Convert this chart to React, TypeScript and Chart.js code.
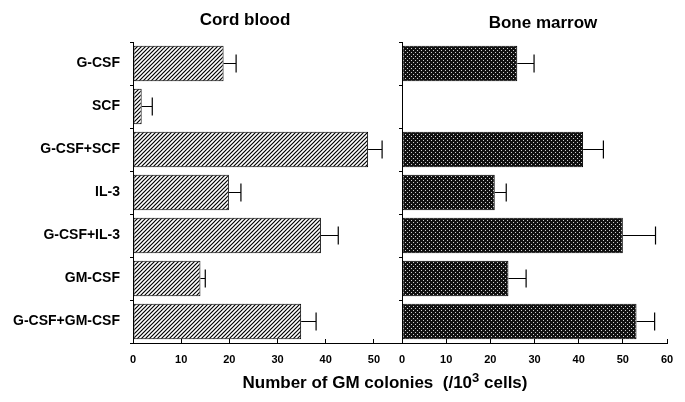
import React, { useEffect, useRef } from "react";
import { Chart, registerables } from "chart.js";

Chart.register(...registerables);

const categories = ["G-CSF", "SCF", "G-CSF+SCF", "IL-3", "G-CSF+IL-3", "GM-CSF", "G-CSF+GM-CSF"];
const cordBlood = [18.8, 1.8, 48.8, 19.9, 39.0, 14.0, 34.9];
const cordBloodErr = [2.6, 2.2, 2.9, 2.5, 3.6, 1.0, 3.1];
const boneMarrow: (number | null)[] = [26.1, null, 41.0, 21.0, 50.0, 24.1, 53.1];
const boneMarrowErr: (number | null)[] = [3.8, null, 4.6, 2.6, 7.4, 4.0, 4.1];
const cordTicksMax = 55;
const boneTicksMax = 60;

function hatchPattern(): CanvasPattern | string {
  const c = document.createElement("canvas");
  c.width = 4;
  c.height = 4;
  const g = c.getContext("2d")!;
  g.fillStyle = "#fff";
  g.fillRect(0, 0, 4, 4);
  g.strokeStyle = "#000";
  g.lineWidth = 1.2;
  g.beginPath();
  g.moveTo(-1, 5);
  g.lineTo(5, -1);
  g.moveTo(-1, 1);
  g.lineTo(1, -1);
  g.moveTo(3, 5);
  g.lineTo(5, 3);
  g.stroke();
  return g.createPattern(c, "repeat") || "#888";
}

function dotPattern(): CanvasPattern | string {
  const c = document.createElement("canvas");
  c.width = 4;
  c.height = 4;
  const g = c.getContext("2d")!;
  g.fillStyle = "#111";
  g.fillRect(0, 0, 4, 4);
  g.fillStyle = "#d0d0d0";
  g.fillRect(0, 0, 1, 1);
  g.fillRect(2, 2, 1, 1);
  return g.createPattern(c, "repeat") || "#222";
}

const errorBarPlugin = {
  id: "errorBars",
  afterDatasetsDraw(chart: any) {
    const ctx = chart.ctx;
    const xs = chart.scales.x;
    chart.data.datasets.forEach((ds: any, di: number) => {
      const meta = chart.getDatasetMeta(di);
      const errs = ds.errors as (number | null)[];
      meta.data.forEach((bar: any, i: number) => {
        const v = ds.data[i];
        const e = errs[i];
        if (v == null || e == null) return;
        const x0 = xs.getPixelForValue(v);
        const x1 = xs.getPixelForValue(v + e);
        const y = bar.y;
        ctx.save();
        ctx.strokeStyle = "#000";
        ctx.lineWidth = 1.2;
        ctx.beginPath();
        ctx.moveTo(x0, y);
        ctx.lineTo(x1, y);
        ctx.moveTo(x1, y - 9);
        ctx.lineTo(x1, y + 9);
        ctx.stroke();
        ctx.restore();
      });
    });
  },
};

function makeConfig(
  values: (number | null)[],
  errors: (number | null)[],
  fill: any,
  max: number,
  yWidth: number,
  showLabels: boolean,
  padRight: number
): any {
  return {
    type: "bar",
    data: {
      labels: categories,
      datasets: [
        {
          data: values,
          errors,
          backgroundColor: fill,
          borderColor: "#000",
          borderWidth: 1,
          borderSkipped: false,
          barPercentage: 0.82,
          categoryPercentage: 1,
        },
      ],
    },
    plugins: [errorBarPlugin],
    options: {
      indexAxis: "y",
      animation: false,
      responsive: false,
      maintainAspectRatio: false,
      layout: { padding: { top: 42, right: padRight, left: 0, bottom: 0 } },
      plugins: { legend: { display: false }, tooltip: { enabled: false }, title: { display: false } },
      scales: {
        x: {
          type: "linear",
          min: 0,
          max,
          afterFit: (s: any) => {
            s.height = 29;
            s.paddingLeft = 0;
            s.paddingRight = 0;
          },
          ticks: {
            stepSize: 10,
            color: "#000",
            padding: 14,
            font: { family: "Liberation Sans, Arial, sans-serif", size: 11, weight: "bold" },
            callback: (v: number) => (v % 10 === 0 ? String(v) : ""),
            maxRotation: 0,
            autoSkip: false,
          },
          grid: {
            drawOnChartArea: false,
            drawTicks: true,
            tickLength: -4,
            color: (c: any) => (c.tick && c.tick.value % 10 === 0 ? "#000" : "rgba(0,0,0,0)"),
            lineWidth: 1,
          },
          border: { display: true, color: "#000", width: 1 },
        },
        y: {
          type: "category",
          afterFit: (s: any) => {
            s.width = yWidth;
            s.paddingTop = 0;
            s.paddingBottom = 0;
          },
          ticks: {
            display: showLabels,
            color: "#000",
            padding: 10,
            font: { family: "Liberation Sans, Arial, sans-serif", size: 14, weight: "bold" },
          },
          grid: {
            drawOnChartArea: false,
            drawTicks: true,
            tickLength: 3,
            offset: true,
            color: "#000",
            lineWidth: 1,
          },
          border: { display: true, color: "#000", width: 1 },
        },
      },
    },
  };
}

export default function App() {
  const leftRef = useRef<HTMLCanvasElement>(null);
  const rightRef = useRef<HTMLCanvasElement>(null);

  useEffect(() => {
    const left = new Chart(
      leftRef.current!,
      makeConfig(cordBlood, cordBloodErr, hatchPattern(), cordTicksMax, 133, true, 2)
    );
    const right = new Chart(
      rightRef.current!,
      makeConfig(boneMarrow, boneMarrowErr, dotPattern(), boneTicksMax, 7, false, 18)
    );
    return () => {
      left.destroy();
      right.destroy();
    };
  }, []);

  const titleStyle: React.CSSProperties = {
    position: "absolute",
    fontFamily: "Liberation Sans, Arial, sans-serif",
    fontWeight: "bold",
    fontSize: 17,
    lineHeight: "20px",
    whiteSpace: "pre",
    transform: "translateX(-50%)",
    color: "#000",
  };

  return (
    <div style={{ position: "fixed", left: 0, top: 0, width: 685, height: 402, background: "#fff", overflow: "hidden" }}>
      <canvas ref={leftRef} width={400} height={372} style={{ position: "absolute", left: 0, top: 0, width: 400, height: 372 }} />
      <canvas ref={rightRef} width={290} height={372} style={{ position: "absolute", left: 395, top: 0, width: 290, height: 372 }} />
      <div style={{ ...titleStyle, left: 245, top: 10 }}>Cord blood</div>
      <div style={{ ...titleStyle, left: 543, top: 13 }}>Bone marrow</div>
      <div style={{ ...titleStyle, left: 385, top: 373, fontSize: 17 }}>
        {"Number of GM colonies  (/10"}
        <sup style={{ fontSize: 13, verticalAlign: "6px", lineHeight: 0 }}>3</sup>
        {" cells)"}
      </div>
    </div>
  );
}
